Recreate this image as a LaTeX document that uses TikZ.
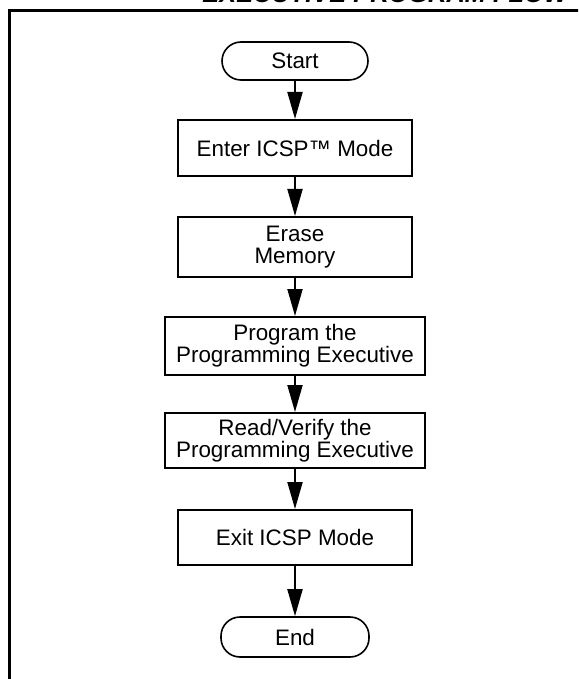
\documentclass[tikz,border=0pt]{standalone}
\usepackage{fontspec}
\setmainfont{Liberation Sans}
\usetikzlibrary{arrows.meta}
\begin{document}
\begin{tikzpicture}[x=0.5pt,y=-0.5pt,>={Triangle[width=7.5pt,length=13.5pt]},
	font=\fontsize{11.2}{11.2}\selectfont, line join=miter,
	stepbox/.style={draw,line width=1pt,minimum width=117pt,minimum height=27.5pt,inner sep=0pt,align=center},
	widebox/.style={stepbox,minimum width=130pt},
	term/.style={draw,line width=0.8pt,rounded corners=9.5pt,minimum width=73pt,minimum height=19pt,inner sep=0pt},
	flow/.style={->,line width=1pt}]
	\def\xc{295} % cot giua
	\useasboundingbox (0,0) rectangle (578,679);
	\clip (0,0) rectangle (578,679);
	\draw[line width=1.5pt] (9,700)--(9,11)--(600,11);
	\node[anchor=base west,inner sep=0pt,font=\fontsize{12.7}{13}\selectfont\bfseries\itshape] (title) at (202,3) {EXECUTIVE PROGRAM FLOW};
	\node[term] (start) at (\xc,61) {Start};
	\node[stepbox,minimum height=28pt] (enter) at (\xc,148) {Enter ICSP™ Mode};
	\node[stepbox,minimum height=30pt] (erase) at (\xc,247) {Erase\\Memory};
	\node[widebox,minimum height=29pt] (prog) at (\xc,346) {Program the\\Programming Executive};
	\node[widebox] (verify) at (\xc,440.5) {Read/Verify the\\Programming Executive};
	\node[stepbox] (exit) at (\xc,537.5) {Exit ICSP Mode};
	\node[term,minimum width=74pt,minimum height=20pt] (end) at (\xc,637) {End};
	\draw[flow] (start)--(enter);
	\draw[flow] (enter)--(erase);
	\draw[flow] (erase)--(prog);
	\draw[flow] (prog)--(verify);
	\draw[flow] (verify)--(exit);
	\draw[flow] (exit)--(end);
\end{tikzpicture}
\end{document}
